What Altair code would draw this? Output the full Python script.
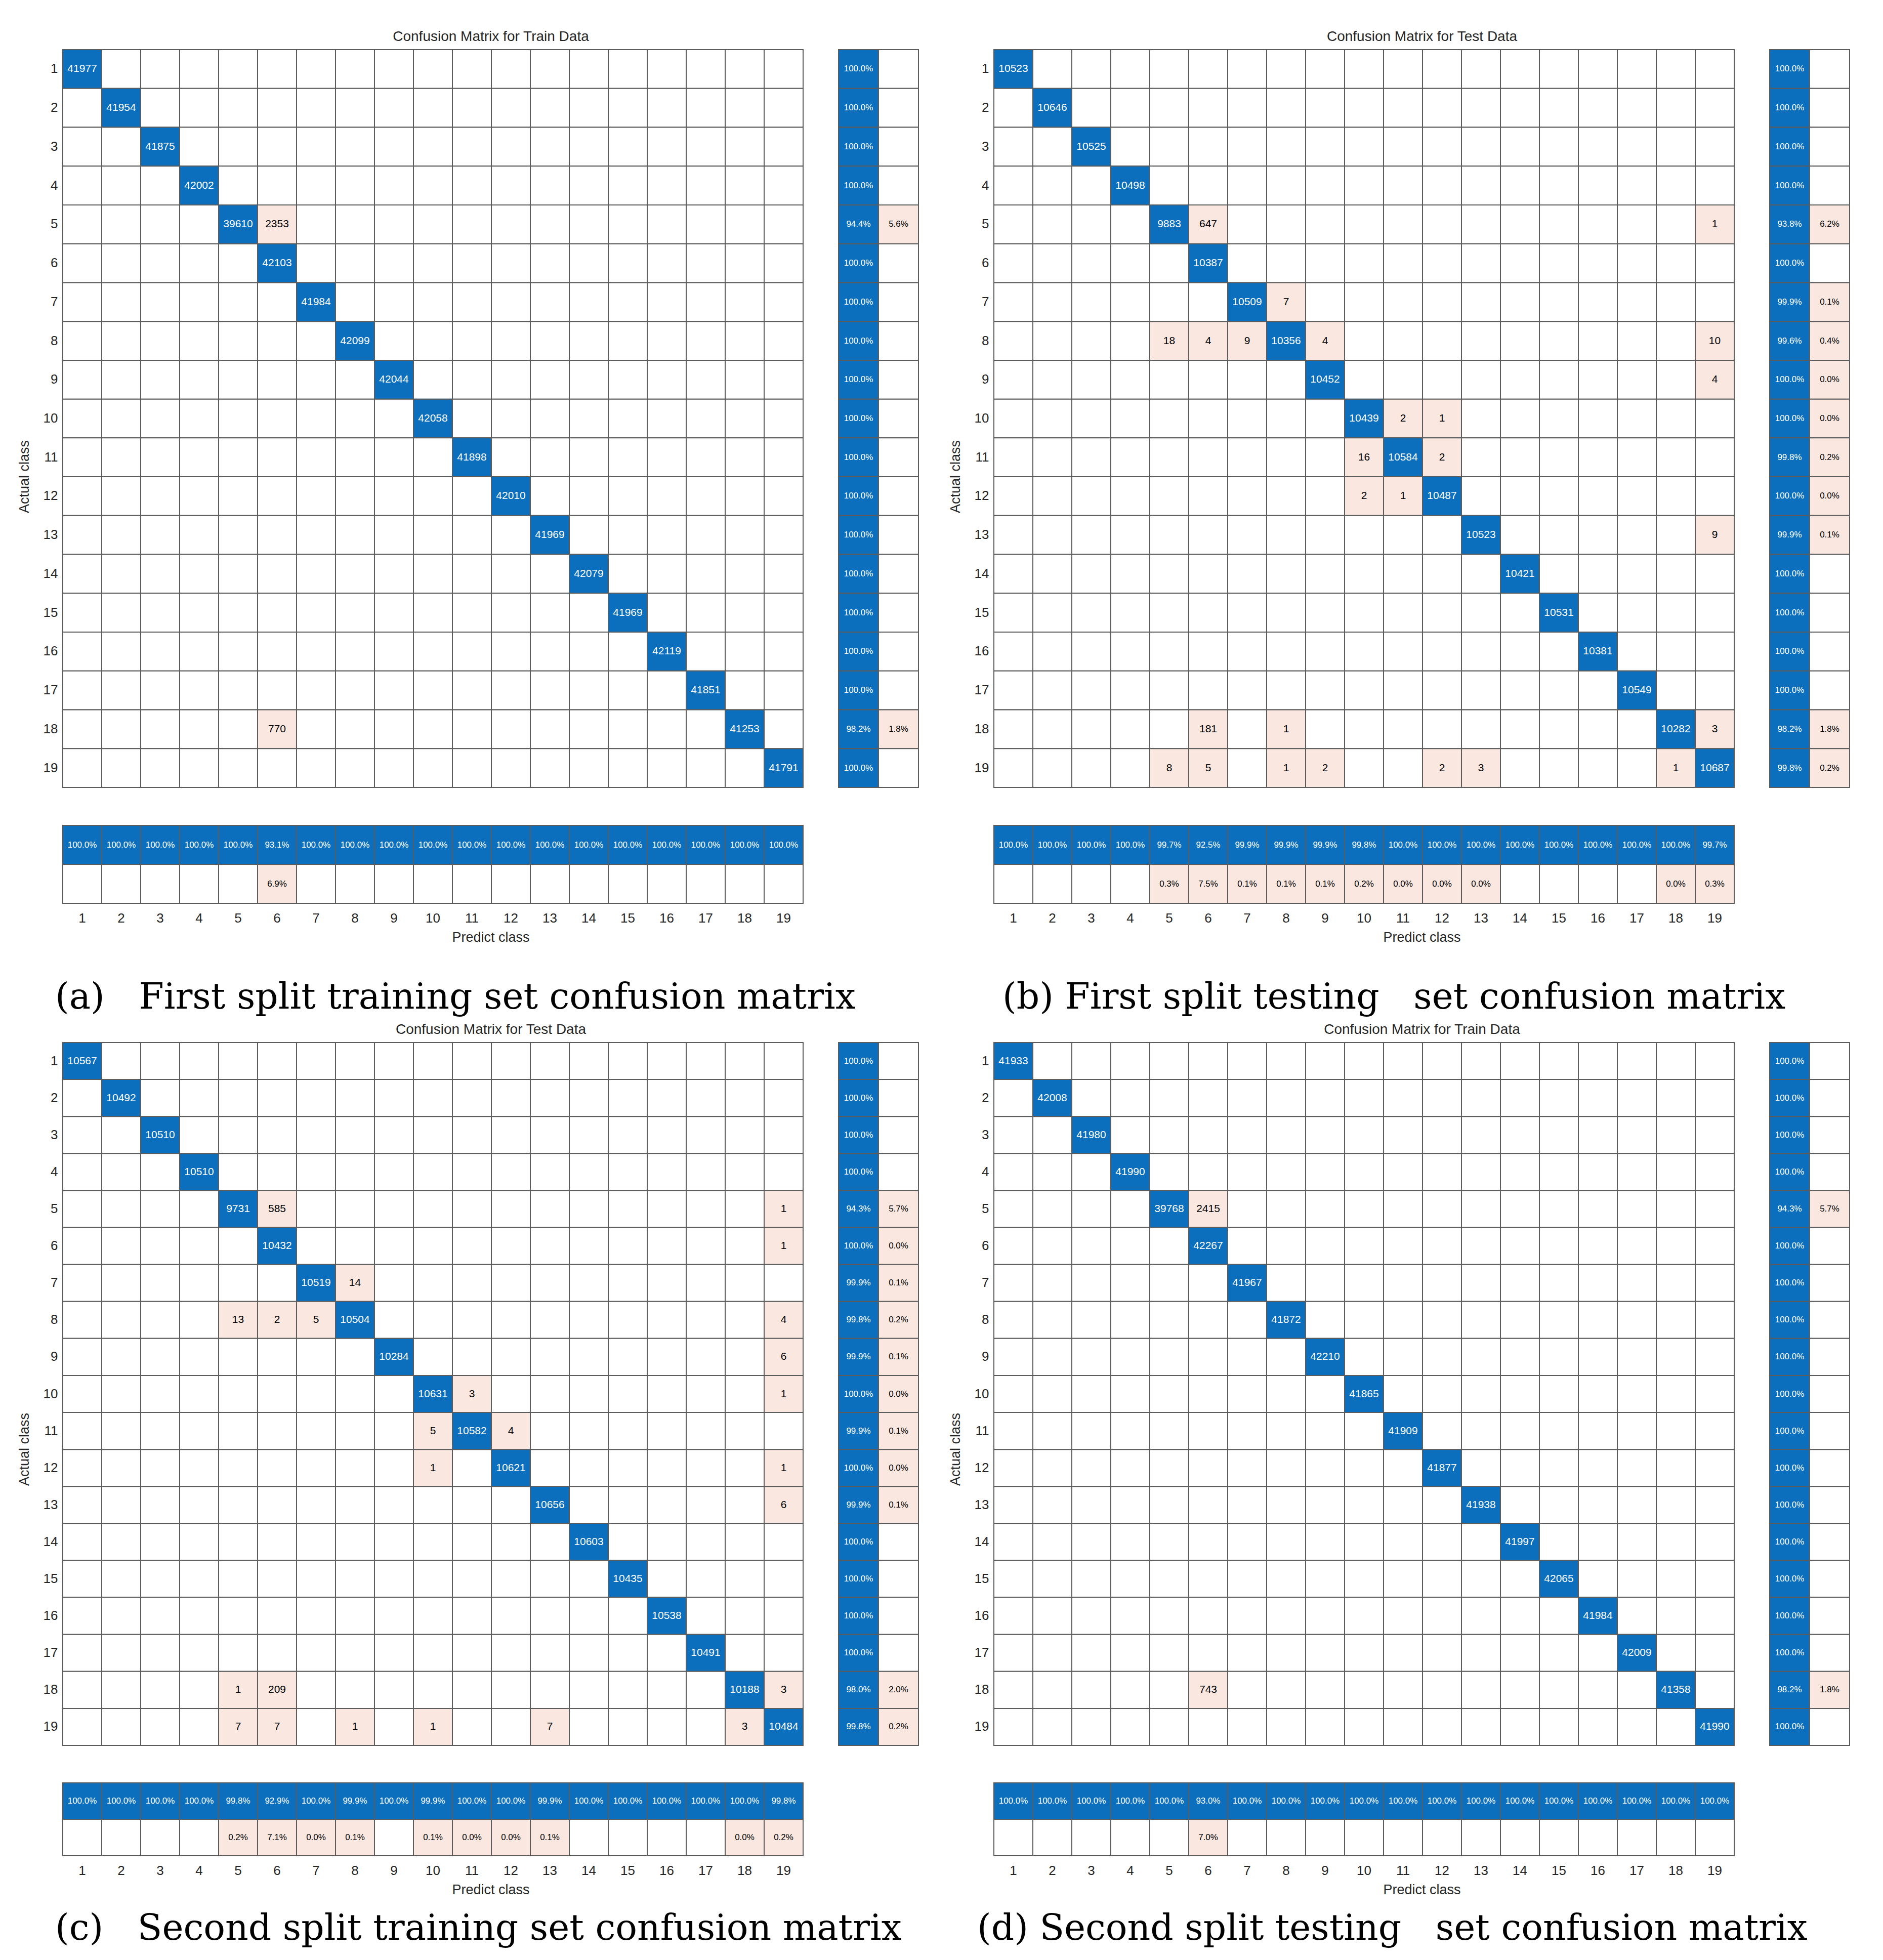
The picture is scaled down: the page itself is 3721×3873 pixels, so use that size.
import altair as alt
import pandas as pd

classes = [str(i) for i in range(1, 20)]

BLUE = "#0b6fbd"
PINK = "#fae8e0"
GRID = "#5c5c5c"

# ---------------- panel (a) ----------------
a_title = "Confusion Matrix for Train Data"
a_caption = "(a)\u00a0\u00a0\u00a0First split training set confusion matrix"
a_diag = [41977, 41954, 41875, 42002, 39610, 42103, 41984, 42099, 42044, 42058,
          41898, 42010, 41969, 42079, 41969, 42119, 41851, 41253, 41791]
a_off_rows = [5, 18]
a_off_cols = [6, 6]
a_off_vals = [2353, 770]
a_row_ok = ["100.0%", "100.0%", "100.0%", "100.0%", "94.4%", "100.0%", "100.0%", "100.0%", "100.0%", "100.0%",
            "100.0%", "100.0%", "100.0%", "100.0%", "100.0%", "100.0%", "100.0%", "98.2%", "100.0%"]
a_row_bad = ["", "", "", "", "5.6%", "", "", "", "", "",
             "", "", "", "", "", "", "", "1.8%", ""]
a_col_ok = ["100.0%", "100.0%", "100.0%", "100.0%", "100.0%", "93.1%", "100.0%", "100.0%", "100.0%", "100.0%",
            "100.0%", "100.0%", "100.0%", "100.0%", "100.0%", "100.0%", "100.0%", "100.0%", "100.0%"]
a_col_bad = ["", "", "", "", "", "6.9%", "", "", "", "",
             "", "", "", "", "", "", "", "", ""]

# ---------------- panel (b) ----------------
b_title = "Confusion Matrix for Test Data"
b_caption = "(b) First split testing\u00a0\u00a0\u00a0set confusion matrix"
b_diag = [10523, 10646, 10525, 10498, 9883, 10387, 10509, 10356, 10452, 10439,
          10584, 10487, 10523, 10421, 10531, 10381, 10549, 10282, 10687]
b_off_rows = [5, 5, 7, 8, 8, 8, 8, 8, 9, 10, 10, 11, 11, 12, 12, 13, 18, 18, 18, 19, 19, 19, 19, 19, 19, 19]
b_off_cols = [6, 19, 8, 5, 6, 7, 9, 19, 19, 11, 12, 10, 12, 10, 11, 19, 6, 8, 19, 5, 6, 8, 9, 12, 13, 18]
b_off_vals = [647, 1, 7, 18, 4, 9, 4, 10, 4, 2, 1, 16, 2, 2, 1, 9, 181, 1, 3, 8, 5, 1, 2, 2, 3, 1]
b_row_ok = ["100.0%", "100.0%", "100.0%", "100.0%", "93.8%", "100.0%", "99.9%", "99.6%", "100.0%", "100.0%",
            "99.8%", "100.0%", "99.9%", "100.0%", "100.0%", "100.0%", "100.0%", "98.2%", "99.8%"]
b_row_bad = ["", "", "", "", "6.2%", "", "0.1%", "0.4%", "0.0%", "0.0%",
             "0.2%", "0.0%", "0.1%", "", "", "", "", "1.8%", "0.2%"]
b_col_ok = ["100.0%", "100.0%", "100.0%", "100.0%", "99.7%", "92.5%", "99.9%", "99.9%", "99.9%", "99.8%",
            "100.0%", "100.0%", "100.0%", "100.0%", "100.0%", "100.0%", "100.0%", "100.0%", "99.7%"]
b_col_bad = ["", "", "", "", "0.3%", "7.5%", "0.1%", "0.1%", "0.1%", "0.2%",
             "0.0%", "0.0%", "0.0%", "", "", "", "", "0.0%", "0.3%"]

# ---------------- panel (c) ----------------
c_title = "Confusion Matrix for Test Data"
c_caption = "(c)\u00a0\u00a0\u00a0Second split training set confusion matrix"
c_diag = [10567, 10492, 10510, 10510, 9731, 10432, 10519, 10504, 10284, 10631,
          10582, 10621, 10656, 10603, 10435, 10538, 10491, 10188, 10484]
c_off_rows = [5, 5, 6, 7, 8, 8, 8, 8, 9, 10, 10, 11, 11, 12, 12, 13, 18, 18, 18, 19, 19, 19, 19, 19, 19]
c_off_cols = [6, 19, 19, 8, 5, 6, 7, 19, 19, 11, 19, 10, 12, 10, 19, 19, 5, 6, 19, 5, 6, 8, 10, 13, 18]
c_off_vals = [585, 1, 1, 14, 13, 2, 5, 4, 6, 3, 1, 5, 4, 1, 1, 6, 1, 209, 3, 7, 7, 1, 1, 7, 3]
c_row_ok = ["100.0%", "100.0%", "100.0%", "100.0%", "94.3%", "100.0%", "99.9%", "99.8%", "99.9%", "100.0%",
            "99.9%", "100.0%", "99.9%", "100.0%", "100.0%", "100.0%", "100.0%", "98.0%", "99.8%"]
c_row_bad = ["", "", "", "", "5.7%", "0.0%", "0.1%", "0.2%", "0.1%", "0.0%",
             "0.1%", "0.0%", "0.1%", "", "", "", "", "2.0%", "0.2%"]
c_col_ok = ["100.0%", "100.0%", "100.0%", "100.0%", "99.8%", "92.9%", "100.0%", "99.9%", "100.0%", "99.9%",
            "100.0%", "100.0%", "99.9%", "100.0%", "100.0%", "100.0%", "100.0%", "100.0%", "99.8%"]
c_col_bad = ["", "", "", "", "0.2%", "7.1%", "0.0%", "0.1%", "", "0.1%",
             "0.0%", "0.0%", "0.1%", "", "", "", "", "0.0%", "0.2%"]

# ---------------- panel (d) ----------------
d_title = "Confusion Matrix for Train Data"
d_caption = "(d) Second split testing\u00a0\u00a0\u00a0set confusion matrix"
d_diag = [41933, 42008, 41980, 41990, 39768, 42267, 41967, 41872, 42210, 41865,
          41909, 41877, 41938, 41997, 42065, 41984, 42009, 41358, 41990]
d_off_rows = [5, 18]
d_off_cols = [6, 6]
d_off_vals = [2415, 743]
d_row_ok = ["100.0%", "100.0%", "100.0%", "100.0%", "94.3%", "100.0%", "100.0%", "100.0%", "100.0%", "100.0%",
            "100.0%", "100.0%", "100.0%", "100.0%", "100.0%", "100.0%", "100.0%", "98.2%", "100.0%"]
d_row_bad = ["", "", "", "", "5.7%", "", "", "", "", "",
             "", "", "", "", "", "", "", "1.8%", ""]
d_col_ok = ["100.0%", "100.0%", "100.0%", "100.0%", "100.0%", "93.0%", "100.0%", "100.0%", "100.0%", "100.0%",
            "100.0%", "100.0%", "100.0%", "100.0%", "100.0%", "100.0%", "100.0%", "100.0%", "100.0%"]
d_col_bad = ["", "", "", "", "", "7.0%", "", "", "", "",
             "", "", "", "", "", "", "", "", ""]


def matrix_df(diag, off_r, off_c, off_v):
    off = {(r, c): v for r, c, v in zip(off_r, off_c, off_v)}
    rows = []
    for i in range(19):
        for j in range(19):
            if i == j:
                v, kind = diag[i], "diag"
            else:
                v = off.get((i + 1, j + 1), 0)
                kind = "off" if v else "zero"
            rows.append({"actual": classes[i], "pred": classes[j], "value": v,
                         "kind": kind, "label": str(v) if v else ""})
    return pd.DataFrame(rows)


def summary_df(ok, bad, key):
    rows = []
    for i in range(19):
        rows.append({key: classes[i], "part": "ok", "kind": "diag", "label": ok[i]})
        rows.append({key: classes[i], "part": "bad", "kind": "off" if bad[i] else "zero", "label": bad[i]})
    return pd.DataFrame(rows)


fill = alt.Fill("kind:N", scale=alt.Scale(domain=["diag", "off", "zero"], range=[BLUE, PINK, "white"]),
                legend=None)
txt_color = alt.condition("datum.kind == 'diag'", alt.value("white"), alt.value("black"))
band = alt.Scale(paddingInner=0, paddingOuter=0)


def panel(title, caption, diag, off_r, off_c, off_v, row_ok, row_bad, col_ok, col_bad,
          H, SH, gap_v, cap_offset, cap_dx):
    W = 1463
    RW = 158
    gap_h = 70
    m = matrix_df(diag, off_r, off_c, off_v)
    y = alt.Y("actual:N", sort=classes, scale=band,
              axis=alt.Axis(title="Actual class", labelFontSize=26, labelPadding=10, ticks=False,
                            domain=False, labelAngle=0, titleFontSize=27, titleFontWeight="normal",
                            titleX=-62, titleY=(H + gap_v + SH) / 2, titleColor="#262626",
                            labelColor="#262626"))
    x = alt.X("pred:N", sort=classes, scale=band, axis=None)
    base = alt.Chart(m)
    mat = alt.layer(
        base.mark_rect(stroke=GRID, strokeWidth=2).encode(x=x, y=y, fill=fill),
        base.mark_text(fontSize=21).encode(x=x, y=y, text="label:N", color=txt_color),
    ).properties(width=W, height=H)

    rs = alt.Chart(summary_df(row_ok, row_bad, "actual"))
    rx = alt.X("part:N", sort=["ok", "bad"], scale=band, axis=None)
    ry = alt.Y("actual:N", sort=classes, scale=band, axis=None)
    rsum = alt.layer(
        rs.mark_rect(stroke=GRID, strokeWidth=2).encode(x=rx, y=ry, fill=fill),
        rs.mark_text(fontSize=17).encode(x=rx, y=ry, text="label:N", color=txt_color),
    ).properties(width=RW, height=H)

    cs = alt.Chart(summary_df(col_ok, col_bad, "pred"))
    cx = alt.X("pred:N", sort=classes, scale=band,
               axis=alt.Axis(title="Predict class", labelAngle=0, ticks=False, domain=False,
                             labelPadding=16, labelFontSize=26, titleFontSize=27,
                             titleFontWeight="normal", titleX=(W + gap_h + RW) / 2, titleY=54,
                             titleBaseline="top", titleColor="#262626", labelColor="#262626"))
    cy = alt.Y("part:N", sort=["ok", "bad"], scale=band, axis=None)
    csum = alt.layer(
        cs.mark_rect(stroke=GRID, strokeWidth=2).encode(x=cx, y=cy, fill=fill),
        cs.mark_text(fontSize=17).encode(x=cx, y=cy, text="label:N", color=txt_color),
    ).properties(width=W, height=SH)

    grid = alt.ConcatChart(
        concat=[mat, rsum, csum], columns=2, bounds="flush",
        spacing={"row": gap_v, "column": gap_h},
    ).properties(
        title=alt.TitleParams(title, anchor="middle", fontSize=28, fontWeight="normal",
                              offset=10, dx=45, color="#262626"))
    return alt.vconcat(grid).properties(
        title=alt.TitleParams(caption, orient="bottom", anchor="start", font="DejaVu Serif",
                              fontSize=71, fontWeight="normal", offset=cap_offset, dx=cap_dx,
                              color="black"))


pa = panel(a_title, a_caption, a_diag, a_off_rows, a_off_cols, a_off_vals,
           a_row_ok, a_row_bad, a_col_ok, a_col_bad, 1458, 154, 75, 72, 75)
pb = panel(b_title, b_caption, b_diag, b_off_rows, b_off_cols, b_off_vals,
           b_row_ok, b_row_bad, b_col_ok, b_col_bad, 1458, 154, 75, 72, 107)
pc = panel(c_title, c_caption, c_diag, c_off_rows, c_off_cols, c_off_vals,
           c_row_ok, c_row_bad, c_col_ok, c_col_bad, 1389, 144, 74, 30, 75)
pd_ = panel(d_title, d_caption, d_diag, d_off_rows, d_off_cols, d_off_vals,
            d_row_ok, d_row_bad, d_col_ok, d_col_bad, 1389, 144, 74, 30, 57)

chart = alt.vconcat(
    alt.hconcat(pa, pb, spacing=58),
    alt.hconcat(pc, pd_, spacing=58),
    spacing=14,
).properties(
    padding={"left": 26, "top": 50, "right": 5, "bottom": 5}
).configure(
    font="Liberation Sans"
).configure_view(
    stroke=None
)

chart.save("out.html", embed_options={"renderer": "svg", "actions": False})
